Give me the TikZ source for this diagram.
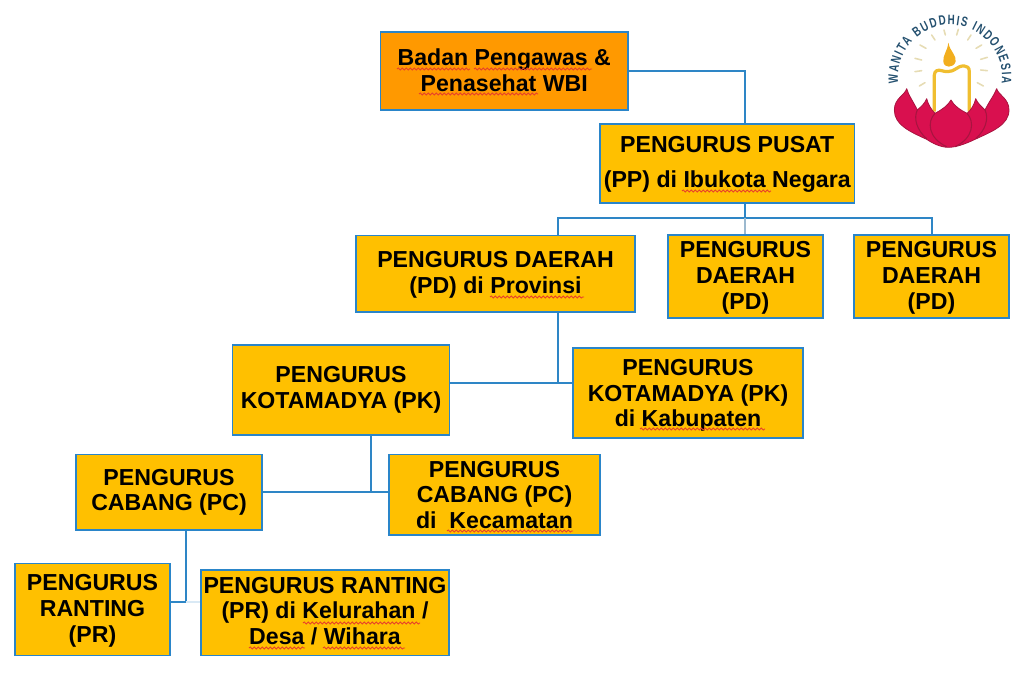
\documentclass[tikz,border=0pt]{standalone}
\usepackage{fontspec}
\setmainfont{Liberation Sans}
\newfontfamily\logofont[FakeStretch=0.72,BoldFeatures={FakeStretch=0.72}]{Liberation Sans}
\usetikzlibrary{decorations.pathmorphing,decorations.text}
\definecolor{boxblue}{HTML}{2A85C9}
\definecolor{linkblue}{HTML}{2E86C6}
\definecolor{gold}{HTML}{FFC000}
\definecolor{amber}{HTML}{FF9900}
\definecolor{crimson}{HTML}{D9104F}
\definecolor{petalline}{HTML}{A81440}
\definecolor{candle}{HTML}{F0BE30}
\definecolor{flame}{HTML}{F2AE1E}
\definecolor{ray}{HTML}{E6DCB4}
\definecolor{logoblue}{HTML}{24506F}
\definecolor{squigred}{HTML}{E8402A}
% first-line strut moves a box's text down by #1 px, last-line strut moves it up
\newcommand{\txtdn}[1]{\rule{0pt}{\dimexpr12.6pt+#1pt*3/2\relax}}
\newcommand{\txtup}[1]{\rule[\dimexpr-#1pt*3/2\relax]{0pt}{0pt}}
\tikzset{
  orgbox/.style={draw=boxblue,line width=1.4pt,fill=gold,align=center,inner sep=0pt,
    font=\fontsize{17.35}{19.2}\selectfont\bfseries,text=black},
  boxsize/.style 2 args={minimum width=#1*0.75pt,minimum height=#2*0.75pt},
  link/.style={draw=linkblue,line width=1.5pt},
  faded/.style={draw=#1,line width=1.5pt},
  squig/.style={draw=squigred,line width=0.65pt,decorate,decoration={snake,segment length=3pt,amplitude=0.8pt}},
  rayline/.style={draw=ray,line width=1.2pt,line cap=round},
}
\begin{document}
\begin{tikzpicture}[x=0.75pt,y=-0.75pt]
\useasboundingbox (0,0) rectangle (1017,688);
% boxes
\node[orgbox,fill=amber,boxsize={247.5}{78}] (bp) at (504.25,71) {Badan Pengawas \&\\Penasehat WBI\txtup{1}};
\node[orgbox,boxsize={254.5}{79}] (pp) at (727.25,163.5) {\txtdn{1}PENGURUS PUSAT\\[7pt](PP) di Ibukota Negara};
\node[orgbox,boxsize={279}{76.5}] (pd1) at (495.5,273.75) {\txtdn{1}PENGURUS DAERAH\\(PD) di Provinsi};
\node[orgbox,boxsize={155}{83}] (pd2) at (745.5,276.5) {\txtdn{1}PENGURUS\\DAERAH\\(PD)};
\node[orgbox,boxsize={155}{83}] (pd3) at (931.5,276.5) {\txtdn{1}PENGURUS\\DAERAH\\(PD)};
\node[orgbox,boxsize={217}{90}] (pk1) at (341,390) {PENGURUS\\KOTAMADYA (PK)};
\node[orgbox,boxsize={230}{90}] (pk2) at (688,393) {\txtdn{2}PENGURUS\\KOTAMADYA (PK)\\di Kabupaten};
\node[orgbox,boxsize={186}{75.5}] (pc1) at (169,492.25) {PENGURUS\\CABANG (PC)};
\node[orgbox,boxsize={211}{80.5}] (pc2) at (494.5,494.75) {PENGURUS\\CABANG (PC)\\di\ \ Kecamatan};
\node[orgbox,boxsize={155}{92}] (pr1) at (92.5,609.5) {\txtdn{1}PENGURUS\\RANTING\\(PR)};
\node[orgbox,boxsize={248}{85.5}] (pr2) at (325,612.75) {PENGURUS RANTING\\(PR) di Kelurahan /\\Desa / Wihara\txtup{2}};
% connector junctions
\coordinate (jtop) at (745,71);
\coordinate (jpp) at (745,218);
\coordinate (jpd) at (558,383);
\coordinate (jpk) at (371,492);
\coordinate (jpc) at (186,602);
% connectors
\draw[link] (bp.east |- jtop) -- (jtop) -- (jtop |- pp.north);
\draw[link] (jpp |- pp.south) -- (jpp);
\draw[link] (pd1.north -| jpd) |- (jpp) -| (pd3.north);
\draw[faded={black!25!linkblue!45}] (jpp) -- (jpp |- pd2.north);
\draw[link] (jpd |- pd1.south) -- (jpd);
\draw[link] (pk1.east |- jpd) -- (pk2.west |- jpd);
\draw[link] (jpk |- pk1.south) -- (jpk);
\draw[link] (pc1.east |- jpk) -- (pc2.west |- jpk);
\draw[link] (jpc |- pc1.south) -- (jpc) -- (pr1.east |- jpc);
\draw[faded={linkblue!18}] (jpc) -- (pr2.west |- jpc);
% spell-check underlines
\draw[squig] (397,69) -- (470,69);
\draw[squig] (474,69) -- (592,69);
\draw[squig] (419,94) -- (538,94);
\draw[squig] (682,191) -- (771,191);
\draw[squig] (490,297) -- (584,297);
\draw[squig] (640,429) -- (765,429);
\draw[squig] (447,531) -- (573,531);
\draw[squig] (303,623) -- (420,623);
\draw[squig] (249,648) -- (305,648);
\draw[squig] (323,648) -- (405,648);
% logo rays, flame, candle
\begin{scope}[shift={(870,0)},x=0.25pt,y=-0.25pt]
  \foreach \a/\b/\c/\d in {222/90/226/105,265/88/260/105,185/105/195/120,303/105/293/120,
    150/135/168/145,335/135/318/145,135/175/155/180,352/172/332/178,135/215/155/212,
    352/212/332/210,148/258/165/248,340/258/322/248}
    \draw[rayline] (\a,\b) -- (\c,\d);
  \fill[flame] (235,128) .. controls (232,155) and (218,165) .. (220,185)
    .. controls (222,205) and (250,205) .. (257,185) .. controls (260,165) and (240,155) .. (235,128) -- cycle;
  \draw[candle,line width=2.4pt,line join=round,fill=white]
    (193,335) -- (193,225) .. controls (193,212) and (205,208) .. (215,212)
    .. controls (225,216) and (245,216) .. (255,208) .. controls (270,196) and (298,190) .. (298,215) -- (298,335);
\end{scope}
% logo lotus
\begin{scope}[shift={(885,60)},x=0.25pt,y=-0.25pt]
  \filldraw[fill=crimson,draw=petalline,line width=0.6pt,line join=round]
    (65,86) .. controls (70,105) and (85,125) .. (97,150)
    .. controls (108,140) and (120,130) .. (125,116)
    .. controls (130,135) and (140,150) .. (150,160)
    .. controls (170,150) and (190,135) .. (198,120)
    .. controls (205,135) and (225,150) .. (246,160)
    .. controls (258,150) and (268,135) .. (272,116)
    .. controls (278,130) and (290,140) .. (300,150)
    .. controls (312,125) and (328,105) .. (335,86)
    .. controls (340,105) and (372,115) .. (372,150)
    .. controls (372,195) and (320,215) .. (270,238)
    .. controls (245,250) and (215,262) .. (190,262)
    .. controls (165,262) and (140,248) .. (125,238)
    .. controls (75,215) and (28,195) .. (28,150)
    .. controls (28,115) and (60,105) .. (65,86) -- cycle;
  \draw[petalline,line width=0.8pt] (150,160) .. controls (125,185) and (130,235) .. (185,260);
  \draw[petalline,line width=0.8pt] (246,160) .. controls (270,185) and (265,235) .. (210,260);
  \draw[petalline,line width=0.8pt] (97,150) .. controls (85,175) and (95,210) .. (125,236);
  \draw[petalline,line width=0.8pt] (300,150) .. controls (312,175) and (302,210) .. (272,236);
\end{scope}
% logo text
\coordinate (logostart) at (898.4,83.3);
\path[decorate,decoration={text along path,text align={fit to path},
  text color=logoblue,
  text={|\logofont\fontsize{10.2}{11}\selectfont\bfseries|WANITA BUDDHIS INDONESIA}}]
  (logostart) arc (173:367:52);
\end{tikzpicture}
\end{document}
